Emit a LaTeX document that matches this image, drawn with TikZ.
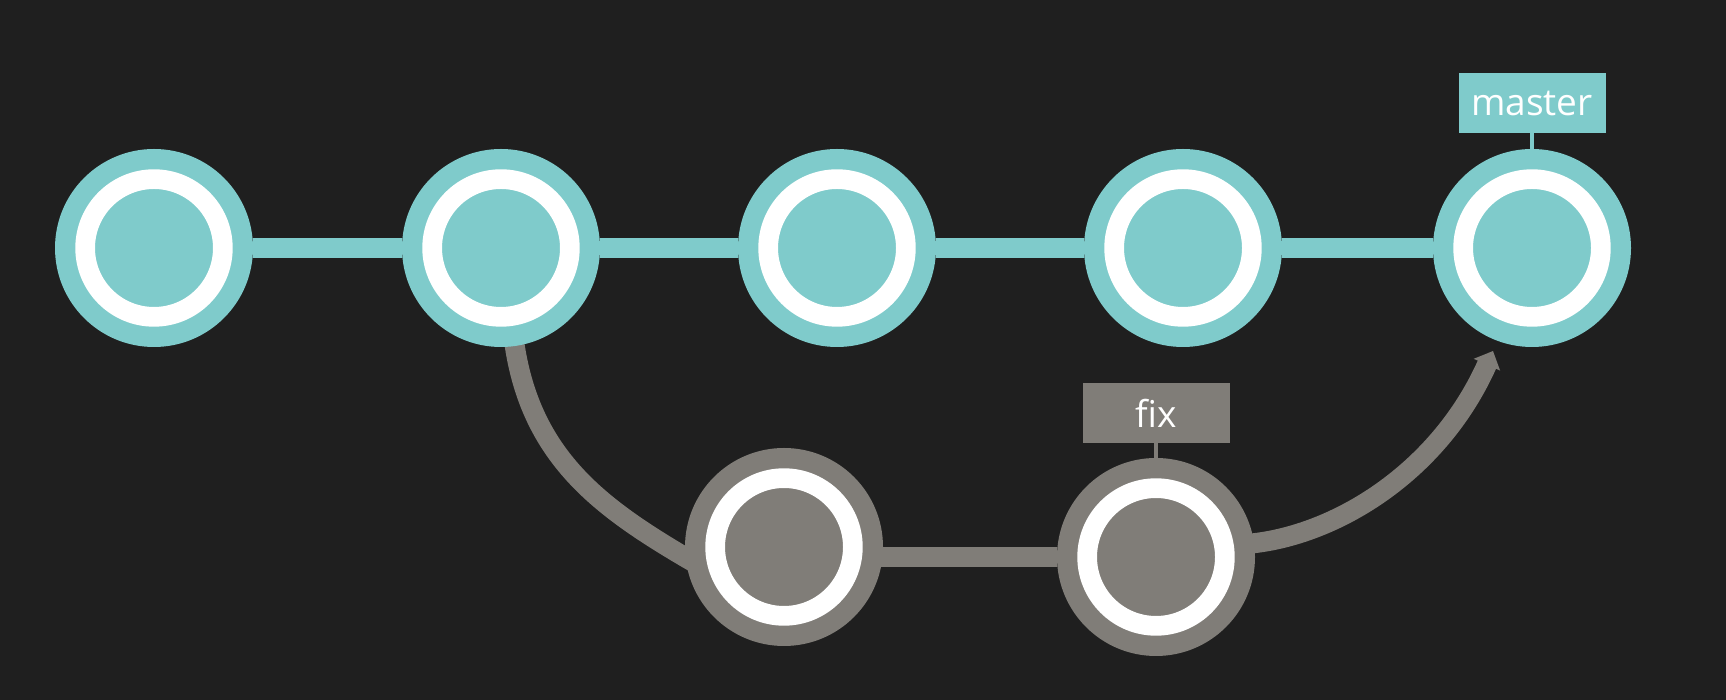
\documentclass[tikz,border=0pt]{standalone}
\usepackage{fontspec}
\setmainfont{Open Sans}
\usetikzlibrary{arrows.meta}

\definecolor{bgdark}{HTML}{1F1F1F}
\definecolor{tealc}{HTML}{7FCBCB}
\definecolor{greyc}{HTML}{807D78}

\pgfdeclarelayer{bg}
\pgfdeclarelayer{edges}
\pgfsetlayers{bg,edges,main}

\tikzset{
  commit/.style={circle, minimum size=198pt, inner sep=0pt, fill=#1,
    path picture={\draw[white, line width=19.7pt] (path picture bounding box.center) circle (68.85pt);}},
  branch/.style={fill=#1, text=white, minimum width=147pt, minimum height=60pt,
    inner sep=0pt, font=\fontsize{37}{40}\selectfont},
  link/.style={line width=20pt, draw=#1}
}

\begin{document}
\begin{tikzpicture}[x=1pt,y=1pt]
        % Background
        \begin{pgfonlayer}{bg}
          \fill[bgdark] (0,0) rectangle (1726,700);
        \end{pgfonlayer}

        % Draw commits on master
        \node[commit=tealc] (c1) at (154,452) {};
        \node[commit=tealc] (c2) at (501,452) {};
        \node[commit=tealc] (c3) at (837,452) {};
        \node[commit=tealc] (c4) at (1183,452) {};
        \node[commit=tealc] (c5) at (1532,452) {};

        % Draw commits on fix
        \node[commit=greyc] (f1) at (784,153) {};
        \node[commit=greyc] (f2) at (1156,143) {};

        % Branch labels
        \node[branch=tealc] (master) at (1532,597) {master};
        \node[branch=greyc] (fix) at (1156,287) {fix};

        \coordinate (tip) at (1493,349);

        % Draw lines between commits
        \begin{pgfonlayer}{edges}
          \draw[link=tealc] (c1) -- (c2) -- (c3) -- (c4) -- (c5);
          \draw[link=greyc] (f2) -- (f2 -| f1);
          \draw[link=greyc] (c2.center) -- (c2.278) .. controls (532,243) and (600,193) .. (f1.186) -- ++(26,-15);
          \draw[link=greyc, -{Triangle[length=15pt,width=28pt]}] (f2.center) -- (f2.8) .. controls (1340,167) and (1440,230) .. (tip);
          \draw[tealc, line width=4pt] (master) -- (c5);
          \draw[greyc, line width=4pt] (fix) -- (f2);
        \end{pgfonlayer}
\end{tikzpicture}
\end{document}
